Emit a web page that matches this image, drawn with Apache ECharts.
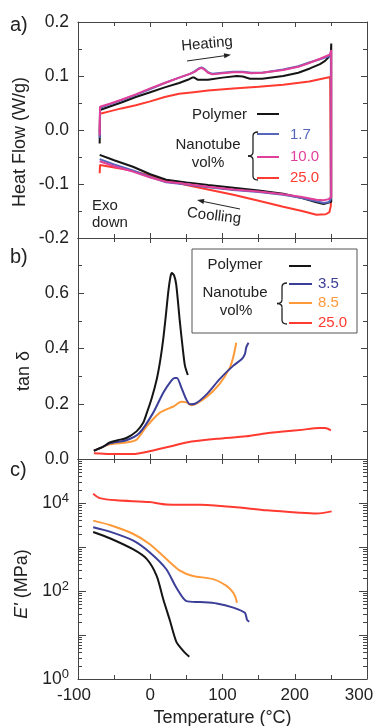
<!DOCTYPE html>
<html>
<head>
<meta charset="utf-8">
<title>Heat flow, tan delta, E'</title>
<script src="https://cdn.jsdelivr.net/npm/echarts@6/dist/echarts.min.js"></script>
<style>
html, body { margin: 0; padding: 0; background: #fff; }
#chart { width: 375px; height: 726px; }
</style>
</head>
<body>
<div id="chart"></div>
<script>
// temperature axis (°C)
var tempMin = -100, tempMax = 300, tempStep = 100;

// a) heat flow (W/g): heating run, then cooling run back. [T, W/g]
var dscPolymer = [
    [-70,-0.025],[-69.5,0.037],[-55,0.044],[-40,0.051],[-20,0.061],[0,0.070],[20,0.079],[40,0.087],[52,0.093],[58,0.097],[61,0.097],[66,0.093],
    [80,0.093],[100,0.097],[120,0.100],[128,0.099],[138,0.095],[155,0.095],[184,0.100],[205,0.106],[221,0.114],[235,0.122],[242,0.128],[247,0.135],[250,0.142],[250.5,0.160],
    [250.5,-0.133],[248,-0.136],[240,-0.137],[230,-0.134],[210,-0.126],[184,-0.118],[150,-0.112],[115,-0.107],[80,-0.102],[50,-0.097],[22,-0.092],[0,-0.082],[-24,-0.068],[-50,-0.056],[-70,-0.046]
];
var dscNano17 = [
    [-70,-0.015],[-69.5,0.041],[-55,0.048],[-40,0.055],[-20,0.065],[0,0.076],[20,0.087],[40,0.097],[55,0.104],[62,0.109],[67,0.114],[71,0.116],[75,0.113],[80,0.107],[86,0.104],
    [100,0.106],[115,0.108],[128,0.108],[140,0.106],[155,0.106],[184,0.112],[205,0.118],[220,0.125],[235,0.131],[244,0.135],[249,0.137],[250,0.145],
    [250,-0.128],[247,-0.134],[240,-0.135],[230,-0.132],[210,-0.126],[184,-0.120],[150,-0.115],[115,-0.111],[80,-0.106],[50,-0.101],[22,-0.097],[0,-0.087],[-24,-0.075],[-50,-0.064],[-70,-0.054]
];
var dscNano10 = [
    [-70,-0.010],[-69.5,0.043],[-55,0.049],[-40,0.056],[-20,0.066],[0,0.077],[20,0.087],[40,0.097],[55,0.104],[62,0.108],[67,0.113],[71,0.115],[75,0.112],[80,0.106],[86,0.103],
    [100,0.105],[115,0.107],[128,0.107],[140,0.105],[155,0.106],[184,0.111],[205,0.117],[220,0.124],[235,0.132],[244,0.137],[249,0.140],[250.5,0.148],
    [250.5,-0.124],[247,-0.128],[240,-0.130],[230,-0.129],[210,-0.124],[184,-0.119],[150,-0.114],[115,-0.110],[80,-0.105],[50,-0.100],[22,-0.096],[0,-0.088],[-24,-0.077],[-50,-0.067],[-70,-0.058]
];
var dscNano25 = [
    [-70,-0.005],[-69.5,0.030],[-55,0.035],[-40,0.040],[-20,0.046],[0,0.053],[20,0.061],[40,0.067],[60,0.070],[80,0.073],[115,0.077],[150,0.080],[184,0.084],[220,0.090],[249,0.098],[250,0.099],
    [250,-0.140],[248,-0.152],[243,-0.156],[230,-0.157],[210,-0.150],[184,-0.142],[150,-0.131],[115,-0.120],[80,-0.110],[50,-0.102],[20,-0.092],[0,-0.084],[-30,-0.074],[-69.5,-0.065],[-70,-0.080]
];

// b) tan delta
var tanPolymer = [
    [-78,0.030],[-65,0.045],[-56,0.060],[-45,0.068],[-33,0.076],[-19,0.100],[-10,0.130],[-5,0.165],[2,0.220],[9,0.289],[14,0.360],[18,0.435],
    [22,0.530],[25,0.606],[28,0.660],[30,0.673],[33,0.665],[36,0.630],[41,0.496],[45,0.400],[48,0.338],[52,0.304]
];
var tanNano35 = [
    [-78,0.030],[-65,0.045],[-56,0.057],[-33,0.068],[-15,0.094],[4,0.167],[18,0.240],[29,0.283],[34,0.293],[37,0.293],[43,0.259],[50,0.215],[55,0.198],
    [62,0.200],[78,0.234],[96,0.289],[115,0.338],[126,0.360],[131,0.380],[133,0.405],[136,0.421]
];
var tanNano85 = [
    [-78,0.030],[-56,0.053],[-33,0.060],[-19,0.070],[-5,0.118],[13,0.167],[32,0.190],[43,0.207],[50,0.205],[57,0.195],[78,0.225],[96,0.272],[110,0.330],[115,0.370],[119,0.421]
];
var tanNano250 = [
    [-78,0.021],[-56,0.018],[-24,0.018],[-1,0.028],[32,0.048],[50,0.060],[92,0.073],[133,0.082],[161,0.093],[207,0.105],[235,0.112],[242,0.112],[250,0.104]
];

// c) storage modulus E' (MPa)
var modPolymer = [[-79,2190],[-56,1580],[-24,890],[-5,537],[9,219],[18,65],[27,22],[36,7.1],[46,4.3],[54,3.2]];
var modNano35 = [[-79,2820],[-56,2240],[-24,1410],[-1,760],[22,316],[36,120],[50,59],[69,56],[92,52],[115,42],[131,32],[134,22],[137,20]];
var modNano85 = [[-79,3980],[-56,3160],[-24,2000],[-1,1170],[22,540],[41,290],[59,220],[87,186],[106,129],[115,91],[118,72],[120,54]];
var modNano250 = [[-79,16200],[-70,12900],[-47,11500],[-1,10500],[22,9300],[69,9100],[115,8100],[161,6800],[207,6000],[230,5750],[251,6450]];

// E' axis: decades 10^0 .. 10^5
var modDecades = 5;

var FONT = '"Liberation Sans", Arial, sans-serif';
var AXIS_COLOR = '#444';
var C_BLACK = '#151515', C_BLUE_A = '#5566bb', C_PINK = '#e0409a', C_RED = '#ff3a30';
var C_BLUE_B = '#3c3f98', C_ORANGE = '#ff9a3a';

function xAxisFor(grid, pos, showLabel){
    var ax = {
        type: 'value', gridIndex: grid, position: pos,
        min: tempMin, max: tempMax, interval: tempStep,
        axisLine: { show: true, onZero: false, lineStyle: { color: AXIS_COLOR, width: 1 } },
        axisTick: { show: true, inside: true, length: 5, lineStyle: { color: AXIS_COLOR } },
        minorTick: { show: true, splitNumber: 2, length: 4, lineStyle: { color: AXIS_COLOR } },
        axisLabel: {
            show: showLabel, fontSize: 17, color: '#222', fontFamily: FONT, margin: 8,
            // end labels sit a little left of their ticks in the original
            formatter: function(v){
                if(v === tempMin) return '{l|' + v + '}';
                if(v === tempMax) return '{r|' + v + '}';
                return String(v);
            },
            rich: {
                l: { fontSize: 17, color: '#222', fontFamily: FONT, padding: [0, 8, 0, 0] },
                r: { fontSize: 17, color: '#222', fontFamily: FONT, padding: [0, 16, 0, 0] }
            }
        },
        splitLine: { show: false }
    };
    if(showLabel){
        ax.name = 'Temperature (°C)';
        ax.nameLocation = 'middle';
        ax.nameGap = 30;
        ax.nameTextStyle = { fontSize: 18, color: '#222', fontFamily: FONT };
    }
    return ax;
}

function yAxisFor(grid, pos, cfg){
    var ax = {
        type: 'value', gridIndex: grid, position: pos,
        axisLine: { show: true, onZero: false, lineStyle: { color: AXIS_COLOR, width: 1 } },
        axisTick: { show: true, inside: true, length: 6, lineStyle: { color: AXIS_COLOR } },
        minorTick: { show: true, splitNumber: 2, length: 4, lineStyle: { color: AXIS_COLOR } },
        axisLabel: { show: pos === 'left', fontSize: 17.5, color: '#222', fontFamily: FONT, margin: 9 },
        splitLine: { show: false }
    };
    for(var k in cfg){
        if(k === 'axisLabel' || k === 'axisTick'){
            for(var j in cfg[k]) ax[k][j] = cfg[k][j];
        } else {
            ax[k] = cfg[k];
        }
    }
    return ax;
}

var heatCfg = { min: -0.2, max: 0.2, interval: 0.1, axisLabel: { formatter: function(v){ return v.toFixed(1); } } };
var tanCfg = { min: 0, max: 0.8, interval: 0.2, axisLabel: { formatter: function(v){ return v > 0.7 ? '' : v.toFixed(1); } } };
var modCfg = {
    type: 'log', logBase: 10, min: 1, max: Math.pow(10, modDecades),
    minorTick: { show: false },
    axisTick: { length: 8 },
    axisLabel: {
        formatter: function(v){
            var e = Math.round(Math.log10(v));
            return e % 2 === 0 ? '10{s|' + e + '}' : '';
        },
        rich: { s: { fontSize: 13, fontFamily: FONT, color: '#222', verticalAlign: 'bottom', padding: [0, 0, 10, 0] } }
    }
};

// the log axis has no 2..9 minor ticks, so a hidden linear axis in decades carries them
var logMinor = [];
for(var d = 0; d < modDecades; d++){
    for(var m = 2; m <= 9; m++) logMinor.push(d + Math.log10(m));
}
function logMinorAxis(pos){
    return {
        type: 'value', gridIndex: 2, position: pos, min: 0, max: modDecades,
        axisLine: { show: false, onZero: false },
        axisLabel: { show: false },
        splitLine: { show: false },
        axisTick: { show: true, inside: true, length: 4, customValues: logMinor, lineStyle: { color: AXIS_COLOR } }
    };
}

function line(name, data, color, xi){
    return {
        name: name, type: 'line', data: data,
        xAxisIndex: xi, yAxisIndex: xi,
        symbol: 'none', showSymbol: false,
        smooth: xi === 0 ? false : 0.25,
        lineStyle: { color: color, width: 2 },
        animation: false
    };
}

function txt(x, y, s, opt){
    opt = opt || {};
    var el = {
        type: 'text', x: x, y: y, rotation: opt.rot || 0, z: 100,
        style: {
            text: s, fill: opt.color || '#222', fontSize: opt.size || 15, fontFamily: FONT,
            align: opt.align || 'left', verticalAlign: 'middle'
        }
    };
    if(opt.rich) el.style.rich = opt.rich;
    return el;
}
function seg(x1, y1, x2, y2, color, w){
    return { type: 'line', z: 100, shape: { x1: x1, y1: y1, x2: x2, y2: y2 }, style: { stroke: color, lineWidth: w || 2 } };
}
function curve(x1, y1, cx, cy, x2, y2){
    return { type: 'bezierCurve', z: 100, shape: { x1: x1, y1: y1, cpx1: cx, cpy1: cy, x2: x2, y2: y2 },
        style: { stroke: '#222', fill: null, lineWidth: 1.3 } };
}
// curly brace: tip at (xt, ym), arms end at xe, spanning y0..y1
function brace(xt, xe, y0, y1){
    var xm = (xt + xe) / 2, ym = (y0 + y1) / 2, r = 4;
    return [
        curve(xe, y0, xm, y0, xm, y0 + r),
        seg(xm, y0 + r, xm, ym - r, '#222', 1.3),
        curve(xm, ym - r, xm, ym, xt, ym),
        curve(xt, ym, xm, ym, xm, ym + r),
        seg(xm, ym + r, xm, y1 - r, '#222', 1.3),
        curve(xm, y1 - r, xm, y1, xe, y1)
    ];
}

var graphics = [
    // panel letters
    txt(10, 25, 'a)', { size: 20 }),
    txt(10, 257, 'b)', { size: 20 }),
    txt(10, 470, 'c)', { size: 20 }),
    // y titles
    txt(20, 142, 'Heat Flow (W/g)', { size: 18, align: 'center', rot: Math.PI / 2 }),
    txt(24, 371, 'tan δ', { size: 18, align: 'center', rot: Math.PI / 2 }),
    txt(22, 584, "{i|E'} (MPa)", { size: 18, align: 'center', rot: Math.PI / 2,
        rich: { i: { fontStyle: 'italic', fontSize: 18, fontFamily: FONT, fill: '#222' } } }),
    // a) annotations
    txt(207, 44, 'Heating', { align: 'center', rot: 0.09 }),
    seg(187, 61, 226, 55.5, '#222', 1),
    { type: 'polygon', z: 100, shape: { points: [[231, 54.8], [224.4, 58.3], [223.8, 53.3]] }, style: { fill: '#222' } },
    txt(214, 216, 'Coolling', { align: 'center', rot: -0.12 }),
    seg(240, 209, 201, 201, '#222', 1),
    { type: 'polygon', z: 100, shape: { points: [[197, 200], [204.4, 199.0], [203.4, 203.9]] }, style: { fill: '#222' } },
    txt(92, 206, 'Exo'),
    txt(92, 223, 'down'),
    // a) legend
    txt(247, 115, 'Polymer', { align: 'right' }),
    seg(257, 114, 279, 114, C_BLACK),
    txt(208, 145, 'Nanotube', { align: 'center' }),
    txt(208, 163, 'vol%', { align: 'center' }),
    seg(257, 134, 279, 134, C_BLUE_A), txt(290, 135, '1.7', { color: C_BLUE_A }),
    seg(257, 157, 279, 157, C_PINK), txt(290, 157, '10.0', { color: C_PINK }),
    seg(257, 178, 279, 178, C_RED), txt(290, 178, '25.0', { color: C_RED }),
    // b) legend
    { type: 'rect', z: 90, shape: { x: 192, y: 249, width: 165, height: 84 }, style: { fill: '#fff', stroke: '#555', lineWidth: 1 } },
    txt(235, 265, 'Polymer', { align: 'center' }),
    seg(289, 266, 311, 266, C_BLACK),
    txt(235, 293, 'Nanotube', { align: 'center' }),
    txt(236, 311, 'vol%', { align: 'center' }),
    seg(289, 284, 312, 284, C_BLUE_B), txt(318, 284, '3.5', { color: C_BLUE_B }),
    seg(289, 303, 312, 303, C_ORANGE), txt(318, 303, '8.5', { color: C_ORANGE }),
    seg(289, 323, 312, 323, C_RED), txt(318, 323, '25.0', { color: C_RED })
].concat(brace(248, 258, 132, 180), brace(277, 287, 283, 324));

var chart = echarts.init(document.getElementById('chart'), null, { renderer: 'canvas' });
var option = {
    backgroundColor: '#fff',
    animation: false,
    grid: [
        { left: 78, right: 8, top: 22, height: 216, outerBoundsMode: 'none' },
        { left: 78, right: 8, top: 238, height: 221, outerBoundsMode: 'none' },
        { left: 78, right: 8, top: 459, height: 220, outerBoundsMode: 'none' }
    ],
    xAxis: [
        xAxisFor(0, 'bottom', false), xAxisFor(0, 'top', false),
        xAxisFor(1, 'bottom', false), xAxisFor(1, 'top', false),
        xAxisFor(2, 'bottom', true), xAxisFor(2, 'top', false)
    ],
    yAxis: [
        yAxisFor(0, 'left', heatCfg), yAxisFor(0, 'right', heatCfg),
        yAxisFor(1, 'left', tanCfg), yAxisFor(1, 'right', tanCfg),
        yAxisFor(2, 'left', modCfg), yAxisFor(2, 'right', modCfg),
        logMinorAxis('left'), logMinorAxis('right')
    ],
    series: [
        line('25.0', dscNano25, C_RED, 0),
        line('Polymer', dscPolymer, C_BLACK, 0),
        line('1.7', dscNano17, C_BLUE_A, 0),
        line('10.0', dscNano10, C_PINK, 0),

        line('25.0', tanNano250, C_RED, 2),
        line('8.5', tanNano85, C_ORANGE, 2),
        line('3.5', tanNano35, C_BLUE_B, 2),
        line('Polymer', tanPolymer, C_BLACK, 2),

        line('25.0', modNano250, C_RED, 4),
        line('8.5', modNano85, C_ORANGE, 4),
        line('3.5', modNano35, C_BLUE_B, 4),
        line('Polymer', modPolymer, C_BLACK, 4)
    ],
    graphic: graphics
};
chart.setOption(option);
</script>
</body>
</html>
